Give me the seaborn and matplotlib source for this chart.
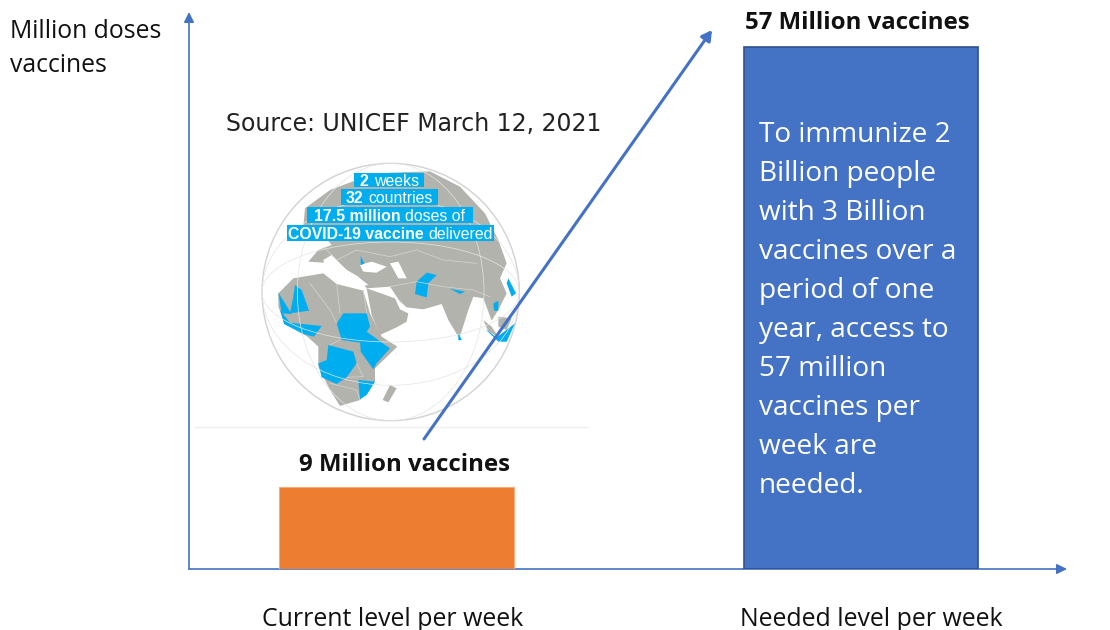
import matplotlib
matplotlib.use("Agg")
import matplotlib.pyplot as plt
import numpy as np
import pandas as pd
import seaborn as sns
from matplotlib.patches import Circle, Ellipse, Polygon, Rectangle
from matplotlib.transforms import ScaledTranslation

levels = ["Current level per week", "Needed level per week"]
doses = [9, 57]
bar_labels = ["9 Million vaccines", "57 Million vaccines"]
bar_colors = ["#ED7D31", "#4472C4"]
source_text = "Source: UNICEF March 12, 2021"
note_lines = [
    "To immunize 2", "Billion people", "with 3 Billion", "vaccines over a",
    "period of one", "year, access to", "57 million", "vaccines per",
    "week are", "needed.",
]
globe_banner = [
    ("2", " weeks"),
    ("32", " countries"),
    ("17.5 million", " doses of"),
    ("COVID-19 vaccine", " delivered"),
]

# Outline shapes for the globe illustration, in the inset's own coordinates
land_shapes = [
    [(355, 335), (385, 300), (425, 285), (400, 255), (340, 230), (345, 175), (420, 120),
     (500, 90), (600, 68), (720, 64), (810, 110), (885, 190), (925, 270), (950, 340),
     (930, 385), (950, 430), (925, 480), (905, 512), (880, 445), (850, 440), (835, 480),
     (808, 565), (775, 510), (755, 462), (700, 478), (650, 472), (628, 452), (600, 410),
     (530, 415), (505, 380), (470, 360), (430, 340)],
    [(530, 415), (615, 445), (630, 478), (655, 490), (650, 515), (620, 532), (570, 555),
     (545, 495)],
    [(265, 430), (310, 385), (400, 370), (440, 402), (520, 422), (540, 490), (575, 560),
     (622, 590), (555, 655), (555, 695), (510, 750), (450, 768), (420, 720), (385, 650),
     (385, 590), (350, 558), (285, 522), (265, 470)],
    [(600, 705), (620, 715), (595, 757), (578, 750)],
    [(880, 510), (905, 530), (925, 560), (895, 545)],
    [(925, 500), (965, 505), (950, 540), (925, 530)],
]
water_shapes = [
    [(400, 330), (425, 315), (470, 360), (510, 385), (535, 405), (500, 410), (440, 395),
     (410, 370)],
    [(510, 345), (545, 335), (590, 350), (560, 368), (520, 365)],
    [(600, 340), (625, 335), (650, 385), (625, 385)],
]
covered_shapes = [
    [(315, 405), (335, 420), (357, 482), (300, 490), (310, 440)],
    [(265, 428), (285, 460), (305, 492), (275, 490)],
    [(270, 480), (300, 518), (395, 528), (372, 560), (340, 552), (282, 522)],
    [(460, 490), (530, 490), (540, 530), (510, 578), (455, 570), (440, 520)],
    [(530, 545), (600, 595), (560, 640), (550, 658), (512, 605), (510, 570)],
    [(415, 585), (490, 605), (500, 640), (470, 682), (440, 702), (395, 682), (385, 640),
     (410, 630)],
    [(505, 690), (555, 695), (530, 735), (510, 748)],
    [(710, 368), (740, 375), (715, 400), (710, 442), (675, 432), (680, 395)],
    [(780, 416), (825, 425), (810, 432)],
    [(910, 460), (925, 452), (925, 482), (912, 482)],
    [(955, 385), (978, 430), (965, 440), (950, 400)],
    [(885, 537), (920, 562), (975, 520), (950, 575), (925, 575)],
    [(805, 550), (816, 570), (805, 571)],
    [(512, 318), (523, 340), (512, 346)],
]
border_lines = [
    [(360, 400), (420, 480), (440, 520)],
    [(440, 402), (450, 490)],
    [(520, 422), (530, 490)],
    [(400, 290), (440, 330), (500, 300), (600, 320), (680, 300), (760, 330), (860, 340)],
    [(600, 410), (680, 395), (760, 410), (850, 420), (900, 440)],
    [(450, 570), (420, 585)],
    [(470, 682), (520, 680), (500, 640)],
    [(420, 700), (500, 720), (510, 750)],
]
banner_boxes = [(493, 703, 68, 110), (453, 743, 118, 165), (350, 848, 172, 218), (290, 912, 225, 272)]

sns.set_theme(style="white")
plt.rcParams["font.family"] = ["Open Sans", "DejaVu Sans"]

W, H = 1110, 630
fig = plt.figure(figsize=(W / 100, H / 100), dpi=100, facecolor="white")


def place(x0, x1, y0, y1, **kw):
    """Add axes from pixel bounds measured from the top-left of the figure."""
    return fig.add_axes([x0 / W, 1 - y1 / H, (x1 - x0) / W, (y1 - y0) / H], **kw)


# Globe illustration behind the chart
gx = place(190, 590, 150, 440, zorder=0)
gx.set_xlim(0, 1200)
gx.set_ylim(870, 0)
gx.axis("off")
globe = Circle((602, 426), 386, fc="white", ec="#d2d2d2", lw=1.0)
gx.add_patch(globe)
for shape in land_shapes:
    gx.add_patch(Polygon(shape, fc="#B3B3AE", ec="none", clip_path=globe))
for shape in water_shapes:
    gx.add_patch(Polygon(shape, fc="white", ec="none"))
for line in border_lines:
    xs, ys = zip(*line)
    gx.plot(xs, ys, color="#d6d6d2", lw=0.5)
for shape in covered_shapes:
    gx.add_patch(Polygon(shape, fc="#00AEEF", ec="none"))
for w, h in [(1000, 772), (560, 772), (772, 300), (772, 560)]:
    gx.add_patch(Ellipse((602, 426), w, h, fc="none", ec="#e4e4e4", lw=0.5, clip_path=globe))
gx.plot([15, 1190], [830, 830], color="#eeeeee", lw=1)

fig.canvas.draw()
renderer = fig.canvas.get_renderer()
for (bold, light), (x0, x1, y0, y1) in zip(globe_banner, banner_boxes):
    gx.add_patch(Rectangle((x0, y0), x1 - x0, y1 - y0, fc="#00AEEF", ec="none"))
    style = dict(color="white", fontsize=11.4, family="Liberation Sans", va="center_baseline")
    first = gx.text((x0 + x1) / 2, (y0 + y1) / 2, bold, fontweight="bold", **style)
    second = gx.text((x0 + x1) / 2, (y0 + y1) / 2, light.strip(), fontweight="normal", **style)
    a = first.get_window_extent(renderer).width
    b = second.get_window_extent(renderer).width
    gap = 5
    start = (x0 + x1) / 2 - (a + gap + b) * 3 / 2
    first.set_x(start)
    first.set_ha("left")
    second.set_x(start + (a + gap) * 3)
    second.set_ha("left")

# Bar chart
ax = place(189, 1067, 12, 569, zorder=1)
ax.patch.set_alpha(0)
table = pd.DataFrame({"level": levels, "doses": doses})
sns.barplot(data=table, x="level", y="doses", hue="level", hue_order=levels,
            palette=bar_colors, width=0.506, saturation=1, legend=False, ax=ax, zorder=3)
ax.set_xlim(-0.448, 1.444)
ax.set_ylim(0, 60.8)
ax.set_xlabel("")
ax.set_ylabel("")
ax.set_yticks([])
ax.tick_params(axis="x", length=0, pad=27, labelsize=17.9, labelcolor="#111111")
ax.patches[0].set_edgecolor("#F4AE7E")
ax.patches[0].set_linewidth(0.8)
ax.patches[1].set_edgecolor("#2F528F")
ax.patches[1].set_linewidth(1.2)
for spine in ax.spines.values():
    spine.set_visible(False)
for label, shift in zip(ax.get_xticklabels(), (-4, 10)):
    label.set_transform(label.get_transform() + ScaledTranslation(shift / 100, 0, fig.dpi_scale_trans))

# Axis arrows and the growth arrow
axis_arrow = dict(arrowstyle="-|>,head_length=0.5,head_width=0.25", color="#4472C4", lw=1.2,
                  shrinkA=0, shrinkB=0)
ax.annotate("", xy=(0, 1), xytext=(0, 0), xycoords="axes fraction", arrowprops=axis_arrow, zorder=2)
ax.annotate("", xy=(1, 0), xytext=(0, 0), xycoords="axes fraction", arrowprops=axis_arrow, zorder=2)
ax.annotate("", xy=(712 / W, 1 - 30 / H), xytext=(424 / W, 1 - 439 / H), xycoords="figure fraction",
            arrowprops=dict(arrowstyle="-|>,head_length=0.5,head_width=0.28", color="#4472C4", lw=2.2,
                            shrinkA=0, shrinkB=0), zorder=4)

# Value labels above the bars
for i, (value, text, dx, dy) in enumerate(zip(doses, bar_labels, (8, -4), (22, 24))):
    ax.annotate(text, xy=(i, value), xytext=(dx, dy), textcoords="offset pixels", ha="center",
                va="center", fontsize=17.3, fontweight="bold", color="#111111",
                annotation_clip=False)

# Explanatory text inside the tall bar
for n, line in enumerate(note_lines):
    fig.text(759 / W, 1 - (135 + 39 * n) / H, line, color="white", fontsize=20.2, va="center",
             ha="left", zorder=5)

fig.text(10 / W, 1 - 32 / H, "Million doses", fontsize=17.8, color="#111111", va="center")
fig.text(10 / W, 1 - 66 / H, "vaccines", fontsize=17.8, color="#111111", va="center")
fig.text(226 / W, 1 - 124 / H, source_text, fontsize=17, color="#222222", va="center",
         family="DejaVu Sans")

fig.savefig("out.png", dpi=100)
